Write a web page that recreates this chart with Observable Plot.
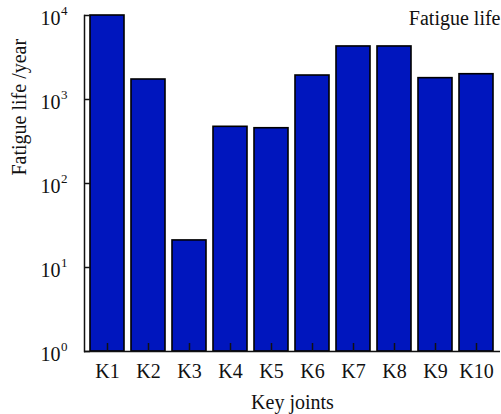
<!DOCTYPE html>
<html>
<head>
<meta charset="utf-8">
<script src="https://cdn.jsdelivr.net/npm/d3@7"></script>
<script src="https://cdn.jsdelivr.net/npm/@observablehq/plot@0.6"></script>
<style>
  html, body { margin: 0; padding: 0; background: #fff; }
  svg { display: block; }
</style>
</head>
<body>
<div id="chart"></div>
<script>
// Fatigue life of each key joint (years, log scale)
const joints = ["K1", "K2", "K3", "K4", "K5", "K6", "K7", "K8", "K9", "K10"];
const fatigueLife = [10000, 1730, 21, 473, 455, 1930, 4280, 4280, 1795, 2000];
const yTicks = [1, 10, 100, 1000, 10000];
const yExponents = ["0", "1", "2", "3", "4"];

const data = joints.map((joint, i) => ({joint, life: fatigueLife[i]}));
const tickRows = yTicks.map((value, i) => ({value, exp: yExponents[i]}));

const font = "Liberation Serif";

const chart = Plot.plot({
  width: 501,
  height: 414,
  marginTop: 15,
  marginBottom: 63,
  marginLeft: 84,
  marginRight: 1,
  style: {fontFamily: font, fontSize: "20px", color: "#111", background: "#fff"},
  x: {domain: joints, paddingInner: 0.16, paddingOuter: 0.08, label: null},
  y: {type: "log", domain: [1, 10000], label: null},
  marks: [
    Plot.barY(data, {x: "joint", y1: 1, y2: "life", fill: "#0016BE", stroke: "#000", strokeWidth: 1.6}),
    // inward ticks
    Plot.axisY(yTicks, {tickSize: -6, tickFormat: null, text: null, strokeWidth: 1.5}),
    Plot.axisX({tickSize: -8, text: null, strokeWidth: 1.5}),
    // x tick labels
    Plot.axisX({tickSize: 0, tickPadding: 12, fontSize: 20, fontFamily: font}),
    // y tick labels as 10 with a superscript exponent
    Plot.text(tickRows, {y: "value", text: () => "10", frameAnchor: "left", textAnchor: "end", dx: -24, dy: 3, fontSize: 20, fontFamily: font}),
    Plot.text(tickRows, {y: "value", text: "exp", frameAnchor: "left", textAnchor: "start", dx: -23.5, dy: -5, fontSize: 13, fontFamily: font}),
    // axis lines
    Plot.frame({anchor: "left", strokeWidth: 1.5}),
    Plot.ruleY([1], {strokeWidth: 1.5}),
    // axis titles
    Plot.text(["Key joints"], {frameAnchor: "bottom", lineAnchor: "bottom", dy: 57, fontSize: 20, fontFamily: font}),
    Plot.text(["Fatigue life /year"], {frameAnchor: "left", rotate: -90, lineAnchor: "bottom", dx: -59, dy: -8, fontSize: 20, fontFamily: font}),
    // legend entry
    Plot.text(["Fatigue life"], {frameAnchor: "top-right", textAnchor: "end", lineAnchor: "bottom", dy: 9, fontSize: 20, fontFamily: font})
  ]
});
document.getElementById("chart").appendChild(chart);
</script>
</body>
</html>
